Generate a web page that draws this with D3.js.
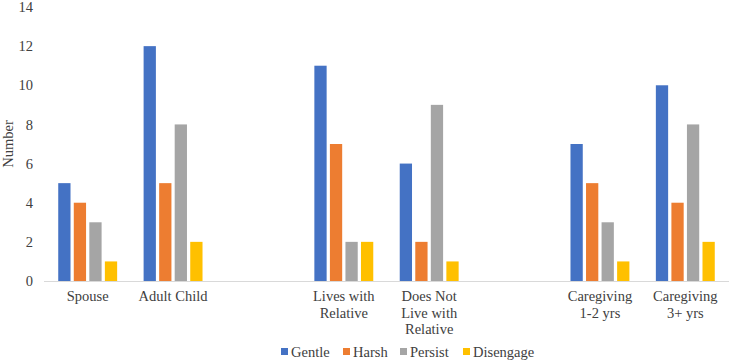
<!DOCTYPE html>
<html>
<head>
<meta charset="utf-8">
<script src="https://cdn.jsdelivr.net/npm/d3@7"></script>
<style>
  body { margin: 0; background: #fff; }
</style>
</head>
<body>
<div id="chart"></div>
<script>
// categories (blank entries are the empty spacer slots between groups)
var categories = ['Spouse', 'Adult Child', '', 'Lives with Relative', 'Does Not Live with Relative', ' ', 'Caregiving 1-2 yrs', 'Caregiving 3+ yrs'];
var seriesNames = ['Gentle', 'Harsh', 'Persist', 'Disengage'];
var gentle    = [5, 12, null, 11, 6, null, 7, 10];
var harsh     = [4, 5, null, 7, 2, null, 5, 4];
var persist   = [3, 8, null, 2, 9, null, 3, 8];
var disengage = [1, 2, null, 2, 1, null, 1, 2];
var yTicks = [0, 2, 4, 6, 8, 10, 12, 14];
var colors = ['#4472C4', '#ED7D31', '#A5A5A5', '#FFC000'];

var seriesValues = [gentle, harsh, persist, disengage];

var fontFamily = '"Liberation Serif", "DejaVu Serif", serif';

var width = 729,
    height = 362;
var margin = {left: 45, right: 1, top: 7, bottom: 81};

var svg = d3.select('#chart')
    .append('svg')
    .attr('width', width)
    .attr('height', height)
    .attr('font-family', fontFamily);

var x0 = d3.scaleBand()
    .domain(categories)
    .range([margin.left, width - margin.right])
    .padding(0);

var groupFrac = 0.69;
var x1 = d3.scaleBand()
    .domain(seriesNames)
    .range([x0.bandwidth() * (1 - groupFrac) / 2, x0.bandwidth() * (1 + groupFrac) / 2])
    .paddingInner(0.21);

var y = d3.scaleLinear()
    .domain([0, 14])
    .range([height - margin.bottom, margin.top]);

var color = d3.scaleOrdinal().domain(seriesNames).range(colors);

function label(sel, size) {
    return sel.style('font-family', fontFamily)
        .style('font-size', size + 'px')
        .attr('fill', '#404040');
}

// y tick labels (no axis line, no gridlines)
svg.append('g')
    .selectAll('text')
    .data(yTicks)
    .enter()
    .append('text')
    .attr('x', 33)
    .attr('y', d => y(d))
    .attr('dy', '0.35em')
    .attr('text-anchor', 'end')
    .call(label, 14.5)
    .text(d => d);

// axis title
svg.append('text')
    .attr('transform', `translate(13, ${y(7)}) rotate(-90)`)
    .attr('text-anchor', 'middle')
    .call(label, 14.5)
    .text('Number');

// bars
var rows = [];
categories.forEach((c, i) => {
    seriesNames.forEach((s, j) => {
        if (seriesValues[j][i] != null) rows.push({cat: c, series: s, value: seriesValues[j][i]});
    });
});

svg.append('g')
    .selectAll('rect')
    .data(rows)
    .enter()
    .append('rect')
    .attr('x', d => x0(d.cat) + x1(d.series))
    .attr('y', d => y(d.value))
    .attr('width', x1.bandwidth())
    .attr('height', d => y(0) - y(d.value))
    .attr('fill', d => color(d.series));

// baseline
svg.append('line')
    .attr('x1', margin.left - 1)
    .attr('x2', width)
    .attr('y1', y(0) + 0.5)
    .attr('y2', y(0) + 0.5)
    .attr('stroke', '#d9d9d9')
    .attr('stroke-width', 1);

// category labels, wrapped
var catLabels = svg.append('g')
    .selectAll('text')
    .data(categories.filter(c => c.trim() !== ''))
    .enter()
    .append('text')
    .attr('text-anchor', 'middle')
    .call(label, 14.5)
    .attr('x', d => x0(d) + x0.bandwidth() / 2)
    .attr('y', y(0) + 20);

catLabels.each(function(d) {
    var el = d3.select(this);
    var words = d.split(' ');
    var lines = [];
    var line = [];
    var tmp = el.append('tspan');
    words.forEach(w => {
        var test = line.concat([w]).join(' ');
        tmp.text(test);
        if (tmp.node().getComputedTextLength() > 75 && line.length) {
            lines.push(line.join(' '));
            line = [w];
        } else {
            line.push(w);
        }
    });
    lines.push(line.join(' '));
    tmp.remove();
    lines.forEach((l, i) => {
        el.append('tspan')
            .attr('x', x0(d) + x0.bandwidth() / 2)
            .attr('dy', i === 0 ? 0 : 16.5)
            .text(l);
    });
});

// legend
var legend = svg.append('g')
    .attr('transform', `translate(281, 352)`);

var offsets = [0, 62, 119, 182];
seriesNames.forEach((s, i) => {
    var g = legend.append('g').attr('transform', `translate(${offsets[i]}, 0)`);
    g.append('rect')
        .attr('x', 0)
        .attr('y', -4)
        .attr('width', 7)
        .attr('height', 7)
        .attr('fill', color(s));
    g.append('text')
        .attr('x', 10)
        .attr('y', 0)
        .attr('dy', '0.35em')
        .call(label, 14.5)
        .text(s);
});
</script>
</body>
</html>
